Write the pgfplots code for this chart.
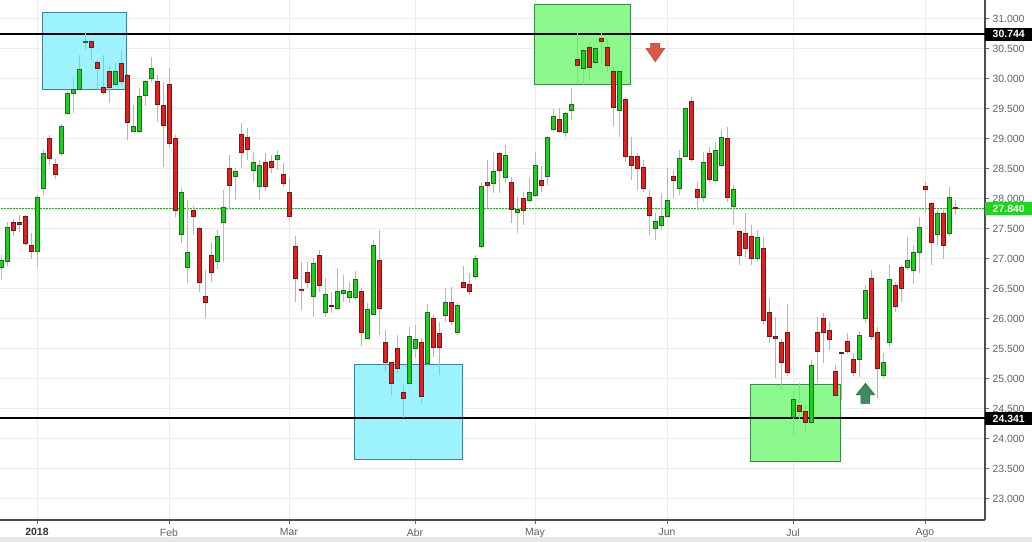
\documentclass[border=0pt]{standalone}
\usepackage{pgfplots}
\pgfplotsset{compat=1.18}
\usepackage{pgfplotstable}
\usepackage{fontspec}
\setmainfont{Liberation Sans}

\definecolor{upfill}{HTML}{22CC22}
\definecolor{upline}{HTML}{1B6B1B}
\definecolor{upwick}{HTML}{A7BDCB}
\definecolor{dnfill}{HTML}{DD2222}
\definecolor{dnline}{HTML}{7A1515}
\definecolor{dnwick}{HTML}{E3A1A7}
\definecolor{zonecyan}{HTML}{9DF3FD}
\definecolor{zonecyanline}{HTML}{3C7FA8}
\definecolor{zonegreen}{HTML}{8AF88A}
\definecolor{zonegreenline}{HTML}{3A8A4A}
\definecolor{lastgreen}{HTML}{22D422}
\definecolor{dotgreen}{HTML}{1CAF1C}
\definecolor{arrowred}{HTML}{DC5A45}
\definecolor{arrowredline}{HTML}{B03A2A}
\definecolor{arrowgreen}{HTML}{3C8C5C}
\definecolor{arrowgreenline}{HTML}{2A6A45}

% daily candles: trading-day index, open, high, low, close
\pgfplotstableread{
k o h l c
0 26.86 27.07 26.65 26.98
1 26.95 27.62 26.88 27.52
6 27.13 28.07 26.87 28.03
7 28.17 28.83 28.07 28.76
10 28.75 29.24 28.72 29.21
11 29.42 29.80 29.39 29.76
12 29.76 30.03 29.43 29.83
13 29.83 30.40 29.82 30.16
14 30.61 30.78 30.48 30.62
19 29.91 30.26 29.90 30.12
22 29.13 29.57 29.11 29.20
23 29.12 29.85 29.09 29.70
24 29.72 29.98 29.55 29.96
25 30.00 30.36 29.95 30.17
30 27.40 28.20 27.27 28.10
31 26.85 27.98 26.60 27.10
36 26.95 27.48 26.83 27.38
37 27.60 28.15 26.95 27.86
39 28.38 28.52 27.98 28.45
42 28.48 28.78 28.28 28.60
43 28.20 28.65 27.98 28.55
46 28.66 28.81 28.48 28.73
52 26.38 27.01 26.03 26.93
54 26.10 26.68 26.03 26.40
56 26.18 26.85 26.14 26.46
57 26.43 26.73 26.28 26.48
58 26.35 26.62 26.26 26.45
59 26.36 26.80 26.31 26.65
61 25.68 26.26 25.66 26.15
62 26.08 27.31 26.06 27.23
68 24.93 25.86 24.90 25.70
69 25.50 25.90 25.35 25.66
71 25.25 26.24 25.23 26.10
74 26.05 26.52 25.95 26.28
76 25.78 26.26 25.73 26.23
79 26.70 27.07 26.67 27.00
80 27.20 28.28 27.18 28.20
82 28.25 28.78 28.10 28.45
84 28.35 28.90 28.27 28.73
86 27.78 28.03 27.43 27.83
88 27.97 28.35 27.94 28.10
89 28.05 28.78 28.03 28.56
91 28.38 29.05 28.23 29.03
92 29.15 29.49 29.11 29.37
94 29.10 29.45 29.03 29.42
95 29.47 29.85 29.32 29.57
97 30.17 30.53 29.90 30.48
99 30.28 30.51 30.23 30.50
103 29.47 30.13 29.03 30.12
109 27.50 27.76 27.32 27.62
110 27.55 28.10 27.48 27.70
111 27.70 28.52 27.68 27.98
113 28.17 28.81 28.07 28.68
114 28.71 29.52 28.70 29.50
117 28.03 28.78 27.95 28.60
119 28.30 28.95 28.28 28.81
120 28.56 29.15 28.53 29.03
122 27.88 28.23 27.57 28.15
126 27.00 27.48 26.95 27.36
132 24.36 24.81 24.07 24.65
135 24.27 25.32 24.25 25.23
143 25.33 25.80 25.03 25.73
144 26.00 26.57 25.93 26.48
147 25.06 25.43 25.02 25.28
148 25.60 26.90 25.53 26.66
151 26.86 27.36 26.82 26.98
152 26.80 27.23 26.58 27.10
153 27.10 27.70 26.76 27.52
156 27.40 27.81 27.23 27.75
158 27.43 28.20 27.38 28.02
}\upT

\pgfplotstableread{
k o h l c
2 27.60 27.67 27.38 27.48
3 27.60 27.73 27.45 27.58
4 27.70 27.73 27.21 27.25
5 27.22 27.43 27.00 27.12
8 29.01 29.07 28.56 28.68
9 28.58 28.66 28.33 28.41
15 30.62 30.63 30.32 30.53
16 30.28 30.32 29.82 30.17
17 29.86 30.40 29.73 29.78
18 30.12 30.23 29.60 29.86
20 30.26 30.48 29.90 29.96
21 30.05 30.08 28.98 29.27
26 29.96 30.07 29.28 29.58
27 29.55 29.95 28.53 29.23
28 29.91 30.18 28.85 28.93
29 29.01 29.06 27.70 27.80
32 27.81 27.88 27.40 27.70
33 27.50 27.53 26.45 26.60
34 26.37 26.81 26.02 26.28
35 27.05 27.28 26.61 26.78
38 28.50 28.73 27.81 28.22
40 29.08 29.26 28.52 28.78
41 29.03 29.18 28.65 28.83
44 28.61 28.76 28.13 28.20
45 28.63 28.73 28.43 28.53
47 28.40 28.60 28.20 28.25
48 28.11 28.35 27.65 27.70
49 27.20 27.38 26.28 26.68
50 26.49 26.95 26.15 26.47
51 26.78 26.95 26.52 26.61
53 27.05 27.15 26.45 26.55
55 26.22 26.44 26.09 26.21
60 26.46 26.52 25.55 25.77
63 26.98 27.48 25.73 26.18
64 25.60 25.82 25.12 25.28
65 25.27 25.28 24.73 24.92
66 25.50 25.73 25.10 25.17
67 24.78 24.90 24.35 24.68
70 25.60 25.68 24.60 24.70
72 26.00 26.06 25.37 25.53
73 25.75 25.95 25.07 25.52
75 26.28 26.53 25.90 25.95
77 26.60 26.88 26.52 26.53
78 26.58 26.76 26.39 26.45
81 28.28 28.65 27.85 28.22
83 28.75 28.78 28.10 28.48
85 28.28 28.37 27.60 27.82
87 28.00 28.12 27.57 27.81
90 28.31 28.54 28.12 28.23
93 29.32 29.52 29.09 29.13
96 30.32 30.77 29.93 30.22
98 30.52 30.61 29.98 30.19
100 30.67 30.76 30.27 30.62
101 30.52 30.68 30.12 30.22
102 30.12 30.20 29.22 29.52
104 29.65 29.70 28.61 28.70
105 28.70 29.03 28.32 28.56
106 28.71 28.76 28.15 28.50
107 28.53 28.65 28.12 28.18
108 28.02 28.15 27.40 27.73
112 28.37 28.48 28.02 28.30
115 29.63 29.70 28.62 28.65
116 28.15 28.28 27.81 28.03
118 28.76 28.86 28.28 28.33
121 29.01 29.20 27.94 28.02
123 27.45 27.48 26.90 27.05
124 27.42 27.76 27.03 27.18
125 27.38 27.56 26.90 27.00
127 27.18 27.36 25.90 25.98
128 26.10 26.35 25.60 25.70
129 25.70 26.03 25.02 25.68
130 25.60 25.66 24.82 25.27
131 25.78 26.25 25.04 25.10
133 24.55 24.93 24.32 24.46
134 24.45 24.56 24.12 24.27
136 25.78 26.03 24.95 25.45
137 26.00 26.10 25.27 25.77
138 25.81 25.95 25.48 25.66
139 25.12 25.23 24.69 24.72
140 25.44 25.45 24.64 25.43
141 25.63 25.77 25.41 25.45
142 25.33 25.43 25.05 25.10
145 26.68 26.82 25.65 25.70
146 25.77 25.86 24.68 25.17
149 26.55 26.62 26.11 26.20
150 26.86 26.90 26.28 26.50
154 28.20 28.28 27.76 28.15
155 27.93 27.94 26.90 27.27
157 27.75 27.81 27.00 27.23
159 27.85 27.98 27.73 27.84
}\downT

% a candle part is a vertical error bar with no line and no marker at its centre
\pgfplotsset{
  candlepart/.style 2 args={draw=none, no markers, forget plot,
    error bars/y dir=both, error bars/y explicit, error bars/error mark=none,
    error bars/error bar style={draw=#1, line width=#2, line cap=butt, solid}},
}

\begin{document}
\begin{tikzpicture}
\begin{axis}[
  width=985bp, height=520bp, scale only axis,
  xmin=-0.1667, xmax=164, ymin=22.648, ymax=31.315,
  axis x line*=bottom, axis y line*=right,
  axis line style={-, draw=black!70, line width=1.2bp},
  tick align=outside, major tick length=4bp,
  tick style={draw=black!60, line width=0.8bp},
  xtick={6,28,48,69,89,111,132,154},
  xticklabels={{\textcolor{black!80}{\bfseries 2018}},Feb,Mar,Abr,May,Jun,Jul,Ago},
  ytick={23,23.5,24,24.5,25,25.5,26,26.5,27,27.5,28,28.5,29,29.5,30,30.5,31},
  scaled y ticks=false,
  yticklabel style={/pgf/number format/fixed, /pgf/number format/fixed zerofill,
    /pgf/number format/precision=3, /pgf/number format/assume math mode=true},
  ticklabel style={font=\fontsize{10.5}{12}\selectfont, text=black!62},
  xticklabel style={yshift=-1bp},
  grid=major, major grid style={draw=black!8, line width=0.8bp},
]
% support / resistance zones
\addplot[fill=zonecyan, draw=zonecyanline, line width=0.9bp]
  coordinates {(6.88,31.11) (20.95,31.11) (20.95,29.827) (6.88,29.827)} -- cycle;
\addplot[fill=zonegreen, draw=zonegreenline, line width=0.9bp]
  coordinates {(88.88,31.248) (104.95,31.248) (104.95,29.91) (88.88,29.91)} -- cycle;
\addplot[fill=zonecyan, draw=zonecyanline, line width=0.9bp]
  coordinates {(58.83,25.248) (76.95,25.248) (76.95,23.665) (58.83,23.665)} -- cycle;
\addplot[fill=zonegreen, draw=zonegreenline, line width=0.9bp]
  coordinates {(124.88,24.91) (139.88,24.91) (139.88,23.632) (124.88,23.632)} -- cycle;

% horizontal levels
\addplot[black, line width=1.9bp] coordinates {(-1,30.744) (165,30.744)};
\addplot[black, line width=1.9bp] coordinates {(-1,24.341) (165,24.341)};
\addplot[dotgreen, line width=0.8bp, dash pattern=on 1.6bp off 1.4bp]
  coordinates {(-1,27.84) (165,27.84)};

% wicks
\addplot[candlepart={upwick}{1bp}] table[x=k, y expr={(\thisrow{h}+\thisrow{l})/2},
  y error expr={(\thisrow{h}-\thisrow{l})/2}] {\upT};
\addplot[candlepart={dnwick}{1bp}] table[x=k, y expr={(\thisrow{h}+\thisrow{l})/2},
  y error expr={(\thisrow{h}-\thisrow{l})/2}] {\downT};
% bodies: dark outline, then fill
\addplot[candlepart={upline}{5bp}] table[x=k, y expr={(\thisrow{o}+\thisrow{c})/2},
  y error expr={abs(\thisrow{c}-\thisrow{o})/2+0.0083}] {\upT};
\addplot[candlepart={upfill}{3bp}] table[x=k, y expr={(\thisrow{o}+\thisrow{c})/2},
  y error expr={max(abs(\thisrow{c}-\thisrow{o})/2-0.0083,0)}] {\upT};
\addplot[candlepart={dnline}{5bp}] table[x=k, y expr={(\thisrow{o}+\thisrow{c})/2},
  y error expr={abs(\thisrow{c}-\thisrow{o})/2+0.0083}] {\downT};
\addplot[candlepart={dnfill}{3bp}] table[x=k, y expr={(\thisrow{o}+\thisrow{c})/2},
  y error expr={max(abs(\thisrow{c}-\thisrow{o})/2-0.0083,0)}] {\downT};

% signal arrows
\addplot[fill=arrowred, draw=arrowredline, line width=0.5bp]
  coordinates {(108.28,30.593) (109.82,30.593) (109.82,30.51) (110.6,30.51)
               (109.05,30.287) (107.5,30.51) (108.28,30.51)} -- cycle;
\addplot[fill=arrowgreen, draw=arrowgreenline, line width=0.5bp]
  coordinates {(144.08,24.927) (145.66,24.732) (144.83,24.732) (144.83,24.593)
               (143.33,24.593) (143.33,24.732) (142.5,24.732)} -- cycle;

\coordinate (SW) at (rel axis cs:0,0);
\coordinate (NE) at (rel axis cs:1,1);
\coordinate (LA) at (axis cs:164,30.744);
\coordinate (LB) at (axis cs:164,24.341);
\coordinate (LC) at (axis cs:164,27.84);
\end{axis}

\pgfresetboundingbox
\path[use as bounding box] ([yshift=-22bp]SW) rectangle ([xshift=47bp]NE);
\fill[black!9] ([yshift=-17.5bp]SW) rectangle ([xshift=47bp,yshift=-22bp]SW -| NE);

\tikzset{pricetag/.style={anchor=west, inner sep=0pt, minimum width=47bp,
  minimum height=13bp, font=\fontsize{10.5}{12}\selectfont\bfseries, text=white}}
\node[pricetag, fill=black] at (LA) {30.744};
\node[pricetag, fill=black] at (LB) {24.341};
\node[pricetag, fill=lastgreen] at (LC) {27.840};
\end{tikzpicture}
\end{document}
